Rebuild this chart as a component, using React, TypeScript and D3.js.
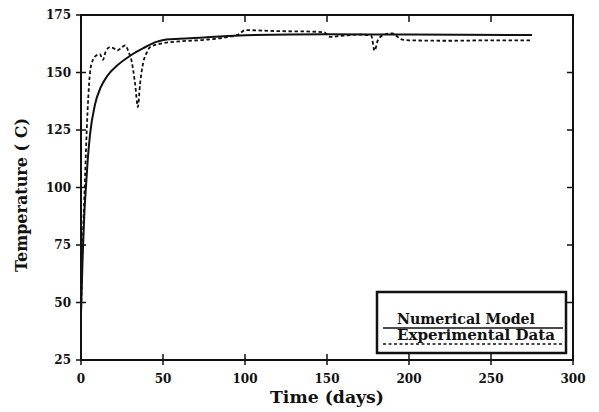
import React, { useEffect, useRef } from "react";
import * as d3 from "d3";

// numerical model (solid)
const modelTime = [0, 1, 2, 3, 4, 5.5, 8.5, 12, 16, 22, 30, 38, 46, 52, 60, 75, 100, 150, 200, 275];
const modelTemp = [45, 70, 88, 100, 111, 123, 136, 143.5, 148.5, 153, 157.3, 160.6, 163.3, 164.3, 164.7, 165.2, 166.2, 166.6, 166.5, 166.3];

// experimental data (dashed)
const expTime = [0, 1, 2, 2.5, 3.5, 4.5, 5.5, 7, 9.5, 11.5, 13.4, 15, 17.7, 20, 22, 25, 27, 29, 31, 33, 34.7, 36, 38, 40, 42, 48, 60, 75, 90, 96, 100, 120, 140, 148, 152, 160, 170, 177, 179, 181, 185, 190, 195, 200, 225, 250, 275];
const expTemp = [45, 75, 95, 105, 125, 140, 150, 155, 157.5, 158, 155.5, 159, 161, 160.5, 159.6, 161, 161.8, 159, 154.5, 145, 135, 145, 154.5, 158.5, 161, 162.5, 163.5, 164.2, 165.5, 166.5, 168.4, 168, 167.8, 167.5, 165.5, 166, 166.5, 166, 159.5, 164, 166.5, 167, 164.5, 164, 163.8, 164, 164];

const xTicks = [0, 50, 100, 150, 200, 250, 300];
const yTicks = [25, 50, 75, 100, 125, 150, 175];
const legendLabels = ["Numerical Model", "Experimental Data"];

const W = 599;
const H = 412;
const FONT = "'DejaVu Serif', serif";

export default function App() {
  const ref = useRef<SVGSVGElement | null>(null);

  useEffect(() => {
    const svg = d3.select(ref.current);
    svg.selectAll("*").remove();

    const left = 81, right = 573, top = 15, bottom = 360;
    const x = d3.scaleLinear().domain([0, 300]).range([left, right]);
    const y = d3.scaleLinear().domain([25, 175]).range([bottom, top]);

    svg.append("rect").attr("width", W).attr("height", H).attr("fill", "#fff");

    const g = svg.append("g").attr("font-family", FONT).attr("font-weight", "bold");

    // lines
    const line = d3.line<[number, number]>()
      .x(d => x(d[0]))
      .y(d => y(d[1]))
      .curve(d3.curveMonotoneX);

    const model = modelTime.map((t, i) => [t, modelTemp[i]] as [number, number]);
    const exp = expTime.map((t, i) => [t, expTemp[i]] as [number, number]);

    g.append("path").attr("d", line(exp)).attr("fill", "none")
      .attr("stroke", "#111").attr("stroke-width", 1.8).attr("stroke-dasharray", "3.5,2.5");
    g.append("path").attr("d", line(model)).attr("fill", "none")
      .attr("stroke", "#111").attr("stroke-width", 2);

    // frame
    g.append("rect").attr("x", left).attr("y", top)
      .attr("width", right - left).attr("height", bottom - top)
      .attr("fill", "none").attr("stroke", "#111").attr("stroke-width", 2);

    // x ticks
    xTicks.forEach(v => {
      g.append("line").attr("x1", x(v)).attr("x2", x(v)).attr("y1", bottom - 6).attr("y2", bottom + 5)
        .attr("stroke", "#111").attr("stroke-width", 1.5);
      g.append("line").attr("x1", x(v)).attr("x2", x(v)).attr("y1", top).attr("y2", top + 7)
        .attr("stroke", "#111").attr("stroke-width", 1.5);
      g.append("text").attr("x", x(v)).attr("y", 383).attr("text-anchor", "middle")
        .attr("font-size", 12).attr("fill", "#111").text(v);
    });

    // y ticks
    yTicks.forEach(v => {
      g.append("line").attr("x1", left - 5).attr("x2", left + 5).attr("y1", y(v)).attr("y2", y(v))
        .attr("stroke", "#111").attr("stroke-width", 1.5);
      g.append("line").attr("x1", right - 6).attr("x2", right).attr("y1", y(v)).attr("y2", y(v))
        .attr("stroke", "#111").attr("stroke-width", 1.5);
      g.append("text").attr("x", 71).attr("y", y(v) + 4).attr("text-anchor", "end")
        .attr("font-size", 12).attr("fill", "#111").text(v);
    });

    // axis titles
    g.append("text").attr("x", (left + right) / 2).attr("y", 403).attr("text-anchor", "middle")
      .attr("font-size", 17).attr("fill", "#111")
      .attr("textLength", 114).attr("lengthAdjust", "spacingAndGlyphs").text("Time (days)");
    g.append("text").attr("transform", "translate(27,195) rotate(-90)").attr("text-anchor", "middle")
      .attr("font-size", 17).attr("fill", "#111")
      .attr("textLength", 154).attr("lengthAdjust", "spacingAndGlyphs").text("Temperature ( C)");

    // legend
    g.append("rect").attr("x", 377).attr("y", 292).attr("width", 189).attr("height", 61)
      .attr("fill", "#fff").attr("stroke", "#111").attr("stroke-width", 2.5);
    g.append("text").attr("x", 397).attr("y", 324).attr("font-size", 14).attr("fill", "#111")
      .attr("textLength", 138).attr("lengthAdjust", "spacingAndGlyphs").text(legendLabels[0]);
    g.append("line").attr("x1", 383).attr("x2", 563).attr("y1", 328).attr("y2", 328)
      .attr("stroke", "#111").attr("stroke-width", 1.5);
    g.append("text").attr("x", 397).attr("y", 340).attr("font-size", 14).attr("fill", "#111")
      .attr("textLength", 158).attr("lengthAdjust", "spacingAndGlyphs").text(legendLabels[1]);
    g.append("line").attr("x1", 383).attr("x2", 563).attr("y1", 344).attr("y2", 344)
      .attr("stroke", "#111").attr("stroke-width", 1.5).attr("stroke-dasharray", "3,2.5");
  }, []);

  return (
    <svg ref={ref} width={W} height={H}
      style={{ position: "absolute", left: 0, top: 0, display: "block" }} />
  );
}
